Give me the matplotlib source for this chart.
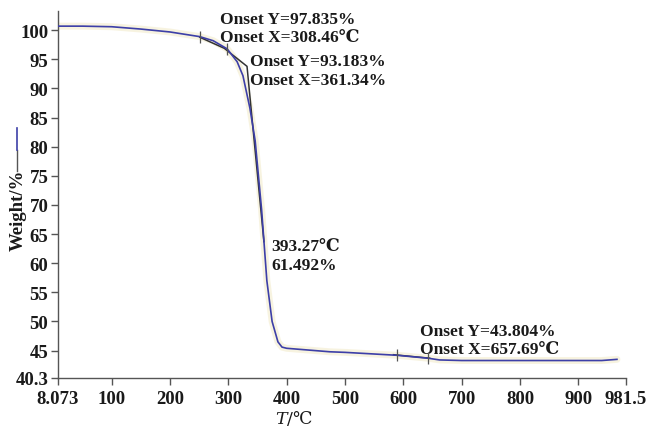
import matplotlib
matplotlib.use("Agg")
import matplotlib.pyplot as plt
from matplotlib.lines import Line2D

# ---- data ----
temp = [8.073, 50, 100, 150, 200, 251, 274, 298, 315, 325, 337, 346, 357, 366,
        375, 385, 392, 400, 474, 500, 589, 642, 662, 700, 800, 900, 940, 966]
weight = [100.7, 100.7, 100.6, 100.2, 99.7, 98.9, 98.2, 96.8, 94.6, 92.2, 86.6,
          81.0, 69.2, 57.0, 50.0, 46.5, 45.6, 45.4, 44.8, 44.7, 44.2, 43.7, 43.4,
          43.3, 43.3, 43.3, 43.3, 43.5]

tangent1_t = [251, 293, 332, 361]
tangent1_w = [98.8, 96.9, 93.8, 63.7]
tangent2_t = [583, 645]
tangent2_w = [44.3, 43.7]
marker_t = [251, 298, 589, 642]
marker_w = [98.9, 96.8, 44.2, 43.7]

xticks = [8.073, 100, 200, 300, 400, 500, 600, 700, 800, 900, 981.5]
xticklabels = ["8.073", "100", "200", "300", "400", "500", "600", "700", "800", "900", "981.5"]
yticks = [40.3, 45, 50, 55, 60, 65, 70, 75, 80, 85, 90, 95, 100]
yticklabels = ["40.3", "45", "50", "55", "60", "65", "70", "75", "80", "85", "90", "95", "100"]

ann_texts = ["Onset Y=97.835%\nOnset X=308.46\u2103",
             "Onset Y=93.183%\nOnset X=361.34%",
             "393.27\u2103\n61.492%",
             "Onset Y=43.804%\nOnset X=657.69\u2103"]
ann_pos = [(285, 100.4), (337, 93.1), (374, 61.3), (628, 46.8)]

# ---- figure ----
plt.rcParams['mathtext.fontset'] = 'dejavuserif'
fig = plt.figure(figsize=(6.46, 4.27), dpi=100)
ax = fig.add_axes([58/646, 1-379/427, (626-58)/646, (379-12)/427])

ax.plot(temp, weight, color="#f3eccc", lw=5, alpha=0.6, zorder=1, solid_capstyle="round")
ax.plot(tangent1_t, tangent1_w, color="#333333", lw=1.1, zorder=2)
ax.plot(tangent2_t, tangent2_w, color="#333333", lw=1.1, zorder=2)
ax.plot(temp, weight, color="#3d3fa8", lw=1.2, zorder=3)
ax.plot(marker_t, marker_w, linestyle="none", marker="|", markersize=9,
        color="#555555", mew=0.9, zorder=4)

ax.set_xlim(8.073, 981.5)
ax.set_ylim(40.3, 103.3)
ax.set_xticks(xticks)
ax.set_xticklabels(xticklabels)
ax.set_yticks(yticks)
ax.set_yticklabels(yticklabels)

for s in ["top", "right"]:
    ax.spines[s].set_visible(False)
for s in ["left", "bottom"]:
    ax.spines[s].set_color("#555555")
    ax.spines[s].set_linewidth(1.0)
ax.tick_params(direction="out", length=5, width=1.0, color="#555555",
               labelsize=13.5, labelcolor="#1a1a1a")
ax.tick_params(axis="x", pad=4)
ax.tick_params(axis="y", pad=2)
for lab in ax.get_xticklabels() + ax.get_yticklabels():
    lab.set_fontfamily(["Liberation Serif", "DejaVu Serif"])
    lab.set_fontweight("bold")

annfont = dict(family=["Liberation Serif", "DejaVu Serif"],
               fontweight="bold", fontsize=12.5, color="#1a1a1a", linespacing=1.2)
for txt, (x, y) in zip(ann_texts, ann_pos):
    ax.text(x, y, txt, ha="left", va="center", **annfont)

# axis labels
fig.text(294/646, 1-419/427, "$T$/\u2103", ha="center", va="center",
         fontsize=12.5, color="#1a1a1a", family=["DejaVu Serif"])
fig.text(18/646, 1-210/427, "Weight/%", rotation=90, ha="center", va="center",
         fontsize=13.5, fontweight="bold", color="#1a1a1a",
         family=["Liberation Serif", "DejaVu Serif"])
fig.add_artist(Line2D([17/646, 17/646], [1-172/427, 1-151/427],
                      color="#555555", lw=1.0, transform=fig.transFigure))
fig.add_artist(Line2D([17/646, 17/646], [1-151/427, 1-129/427],
                      color="#3d3fa8", lw=1.2, transform=fig.transFigure))

fig.savefig("out.png", dpi=100)
